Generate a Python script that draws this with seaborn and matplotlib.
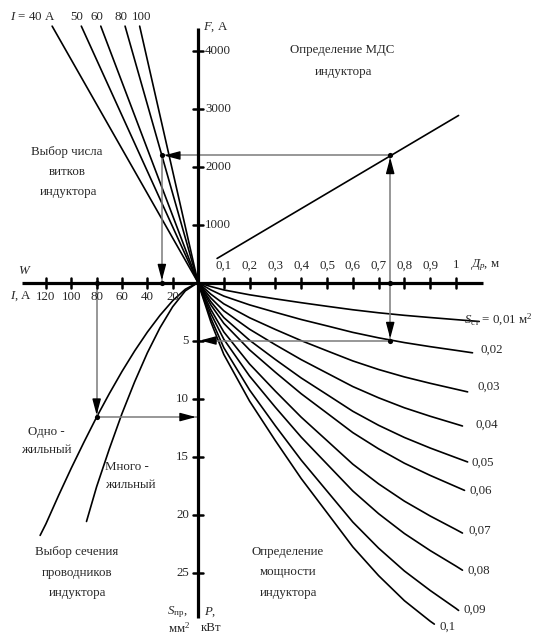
import numpy as np
import pandas as pd
import matplotlib
matplotlib.use("Agg")
import matplotlib.pyplot as plt
import seaborn as sns

# ---------------- data ----------------
I_lines = [40, 50, 60, 80, 100]                 # A, lines of "turns" quadrant
I_line_labels = ["$I$ = 40 A", "50", "60", "80", "100"]
F_top = 4420                                    # F at top end of I lines

F_ticks = [1000, 2000, 3000, 4000]
P_ticks = [5, 10, 15, 20, 25]
D_ticks = [0.1, 0.2, 0.3, 0.4, 0.5, 0.6, 0.7, 0.8, 0.9, 1.0]
D_tick_labels = ["0,1", "0,2", "0,3", "0,4", "0,5", "0,6", "0,7", "0,8", "0,9", "1"]
I_ticks = [20, 40, 60, 80, 100, 120]

mds_D = [0.074, 1.01]                           # F(Д) line
mds_F = [415, 2880]

D_grid = [0, 0.05, 0.1, 0.2, 0.3, 0.4, 0.5, 0.6, 0.7, 0.8, 0.9, 1.0]
S_st_labels = ["0,01", "0,02", "0,03", "0,04", "0,05", "0,06", "0,07", "0,08", "0,09", "0,1"]
P_001 = [0, 0.35, 0.64, 1.06, 1.41, 1.74, 2.05, 2.35, 2.61, 2.83, 3.02, 3.20]
P_002 = [0, 0.64, 1.17, 1.93, 2.57, 3.19, 3.74, 4.30, 4.77, 5.18, 5.53, 5.85]
P_003 = [0, 1.01, 1.84, 3.04, 4.05, 5.01, 5.89, 6.76, 7.50, 8.14, 8.69, 9.20]
P_004 = [0, 1.34, 2.44, 4.03, 5.37, 6.65, 7.81, 8.97, 9.94, 10.80, 11.53, 12.20]
P_005 = [0, 1.66, 3.02, 4.98, 6.64, 8.23, 9.66, 11.10, 12.31, 13.36, 14.27, 15.10]
P_006 = [0, 1.94, 3.52, 5.81, 7.74, 9.59, 11.26, 12.94, 14.34, 15.58, 16.63, 17.60]
P_007 = [0, 2.34, 4.26, 7.03, 9.37, 11.61, 13.63, 15.66, 17.36, 18.85, 20.13, 21.30]
P_008 = [0, 2.69, 4.89, 8.07, 10.76, 13.33, 15.65, 17.97, 19.93, 21.64, 23.11, 24.45]
P_009 = [0, 3.09, 5.62, 9.27, 12.36, 15.31, 17.98, 20.65, 22.90, 24.87, 26.55, 28.10]
P_010 = [0, 3.41, 6.20, 10.23, 13.64, 16.90, 19.84, 22.79, 25.27, 27.43, 29.20]
end_D = [1.09, 1.064, 1.045, 1.025, 1.045, 1.033, 1.025, 1.025, 1.01, 0.916]
end_P = [3.36, 6.06, 9.43, 12.37, 15.47, 17.92, 21.60, 24.80, 28.27, 29.45]

I_single = [0, 10, 20, 30, 40, 50, 60, 70, 80, 90, 100, 110, 120, 124.6]
S_single = [0, 0.58, 1.57, 2.83, 4.28, 5.90, 7.67, 9.58, 11.6, 13.76, 16.0, 18.35, 20.8, 21.8]
I_multi = [0, 10, 20, 30, 40, 50, 60, 70, 80, 88]
S_multi = [0, 0.72, 2.09, 3.90, 6.07, 8.56, 11.3, 14.35, 17.6, 20.6]

# worked example
ex_D, ex_F, ex_I, ex_P, ex_S = 0.745, 2190, 80, 5.0, 11.6

# ---------------- scales (pixels per unit) ----------------
DX, IX, WX, FY, PY = 258.0, 1.267, 1.32, 0.058, 11.6

sns.set_theme(style="white")
plt.rcParams["font.family"] = ["Liberation Serif", "DejaVu Serif"]
plt.rcParams["mathtext.fontset"] = "custom"
plt.rcParams["mathtext.rm"] = "Liberation Serif"
plt.rcParams["mathtext.it"] = "Liberation Serif:italic"

fig = plt.figure(figsize=(5.35, 6.37), dpi=100)
ax = fig.add_axes([0, 0, 1, 1])
ax.set_xlim(-198, 337)
ax.set_ylim(-354.5, 282.5)
ax.axis("off")

def px(x, y):
    return x - 198, 282.5 - y

K = "black"
FS = 9.3
# main axes
ax.plot([-176, 285], [0, 0], color=K, lw=2.3, solid_capstyle="butt", zorder=3)
ax.plot([0, 0], [254.5, -335.5], color=K, lw=2.3, solid_capstyle="butt", zorder=3)
# ticks
for f in F_ticks:
    ax.plot([-5, 5], [f * FY] * 2, color=K, lw=1.8, zorder=3)
    ax.text(7, f * FY, str(f), fontsize=FS, ha="left", va="center")
for p in P_ticks:
    ax.plot([-5, 5], [-p * PY] * 2, color=K, lw=1.8, zorder=3)
    ax.text(-9, -p * PY, str(p), fontsize=FS, ha="right", va="center")
for d, lab in zip(D_ticks, D_tick_labels):
    ax.plot([d * DX] * 2, [-5, 5], color=K, lw=1.8, zorder=3)
    ax.text(d * DX, 17, lab, fontsize=FS, ha="center", va="center")
for i in I_ticks:
    ax.plot([-i * IX] * 2, [-5, 5], color=K, lw=1.8, zorder=3)
    ax.text(-i * IX, -14, str(i), fontsize=FS, ha="center", va="center")

# I lines (W = F / I)
for i in I_lines:
    W = F_top / i
    ax.plot([0, -W * WX], [0, F_top * FY], color=K, lw=1.2)
lab_pos = [(10, 17, "left"), (77, 17, "center"), (97, 17, "center"), (121, 17, "center"), (142, 17, "center")]
for (x, y, ha), lab in zip(lab_pos, I_line_labels):
    ax.text(*px(x, y), lab, fontsize=FS, ha=ha, va="center")

# F(D) line
ax.plot(np.array(mds_D) * DX, np.array(mds_F) * FY, color=K, lw=1.2)

# P curves via seaborn
P_lists = [P_001, P_002, P_003, P_004, P_005, P_006, P_007, P_008, P_009, P_010]
rows = []
for lab, Pl, de, pe in zip(S_st_labels, P_lists, end_D, end_P):
    Ds = D_grid[:len(Pl)] + [de]
    Ps = Pl + [pe]
    for d, p in zip(Ds, Ps):
        rows.append({"S": lab, "x": d * DX, "y": -p * PY})
df = pd.DataFrame(rows)
sns.lineplot(data=df, x="x", y="y", units="S", estimator=None, sort=False,
             color=K, lw=1.2, ax=ax, legend=False)

# wire cross-section curves
wire = pd.concat([
    pd.DataFrame({"k": "one", "x": -np.array(I_single) * IX, "y": -np.array(S_single) * PY}),
    pd.DataFrame({"k": "multi", "x": -np.array(I_multi) * IX, "y": -np.array(S_multi) * PY}),
])
sns.lineplot(data=wire, x="x", y="y", units="k", estimator=None, sort=False,
             color=K, lw=1.2, ax=ax, legend=False)
ax.set_xlabel(""); ax.set_ylabel("")
ax.set_xlim(-198, 337); ax.set_ylim(-354.5, 282.5)
ax.axis("off")

# worked example guide lines
G = "#7a7a7a"
xD = ex_D * DX
yF = ex_F * FY
xW = -(ex_F / ex_I) * WX
yP = -ex_P * PY
xI = -ex_I * IX
yS = -ex_S * PY
glw = 1.1
ax.plot([xD, xD], [yF, yP], color=G, lw=glw)
ax.plot([xD, xW], [yF, yF], color=G, lw=glw)
ax.plot([xW, xW], [yF, 0], color=G, lw=glw)
ax.plot([xD, 0], [yP, yP], color=G, lw=glw)
ax.plot([xI, xI], [0, yS], color=G, lw=glw)
ax.plot([xI, 0], [yS, yS], color=G, lw=glw)

def head(tip, dx, dy, L=13):
    ax.annotate("", xy=tip, xytext=(tip[0] - dx * L, tip[1] - dy * L),
                arrowprops=dict(arrowstyle="-|>,head_length=1.2,head_width=0.32",
                                color=K, lw=1.0, shrinkA=0, shrinkB=0,
                                mutation_scale=8), zorder=5)

head((xD, yF - 2), 0, 1)
head((xD, yP + 2), 0, -1)
head((xW + 2, yF), -1, 0)
head((xW, 2), 0, -1)
head((2, yP), -1, 0)
head((xI, yS + 2), 0, -1)
head((-2, yS), 1, 0)

dots_x = [xD, xD, xD, xW, xW, xI, xI]
dots_y = [0, yF, yP, yF, 0, 0, yS]
ax.scatter(dots_x, dots_y, s=14, color=K, zorder=6, linewidths=0)

# labels
ax.text(*px(203, 27), "$F$, A", fontsize=FS, ha="left", va="center")
ax.text(*px(25, 271), "$W$", fontsize=FS, ha="center", va="center")
ax.text(*px(10, 296), "$I$, A", fontsize=FS, ha="left", va="center")
ax.text(*px(470, 265), "$Д_{р}$, м", fontsize=FS, ha="left", va="center")
ax.text(*px(464, 320), "$S_{\\mathrm{ст}}$ = 0,01 м$^{2}$", fontsize=FS, ha="left", va="center")
curve_lab_pos = [(492, 350), (489, 387), (487, 425), (483, 463), (481, 491),
                 (480, 531), (479, 571), (475, 610), (448, 627)]
for lab, (x, y) in zip(S_st_labels[1:], curve_lab_pos):
    ax.text(*px(x, y), lab, fontsize=FS, ha="center", va="center")

captions = [
    ("Определение МДС", 342, 50), ("индуктора", 343, 72),
    ("Выбор числа", 67, 152), ("витков", 67, 172), ("индуктора", 68, 192),
    ("Одно -", 46, 432), ("жильный", 46, 450),
    ("Много -", 127, 467), ("жильный", 130, 485),
    ("Выбор сечения", 77, 552), ("проводников", 77, 573), ("индуктора", 77, 593),
    ("Определение", 288, 552), ("мощности", 288, 572), ("индуктора", 288, 593),
]
for t, x, y in captions:
    ax.text(*px(x, y), t, fontsize=FS, ha="center", va="center")

ax.text(*px(167, 612), "$S_{\\mathrm{пр}}$,", fontsize=FS, ha="left", va="center")
ax.text(*px(168, 628), "мм$^{2}$", fontsize=FS, ha="left", va="center")
ax.text(*px(204, 612), "$P$,", fontsize=FS, ha="left", va="center")
ax.text(*px(201, 628), "кВт", fontsize=FS, ha="left", va="center")

fig.savefig("out.png", dpi=100, facecolor="white")
